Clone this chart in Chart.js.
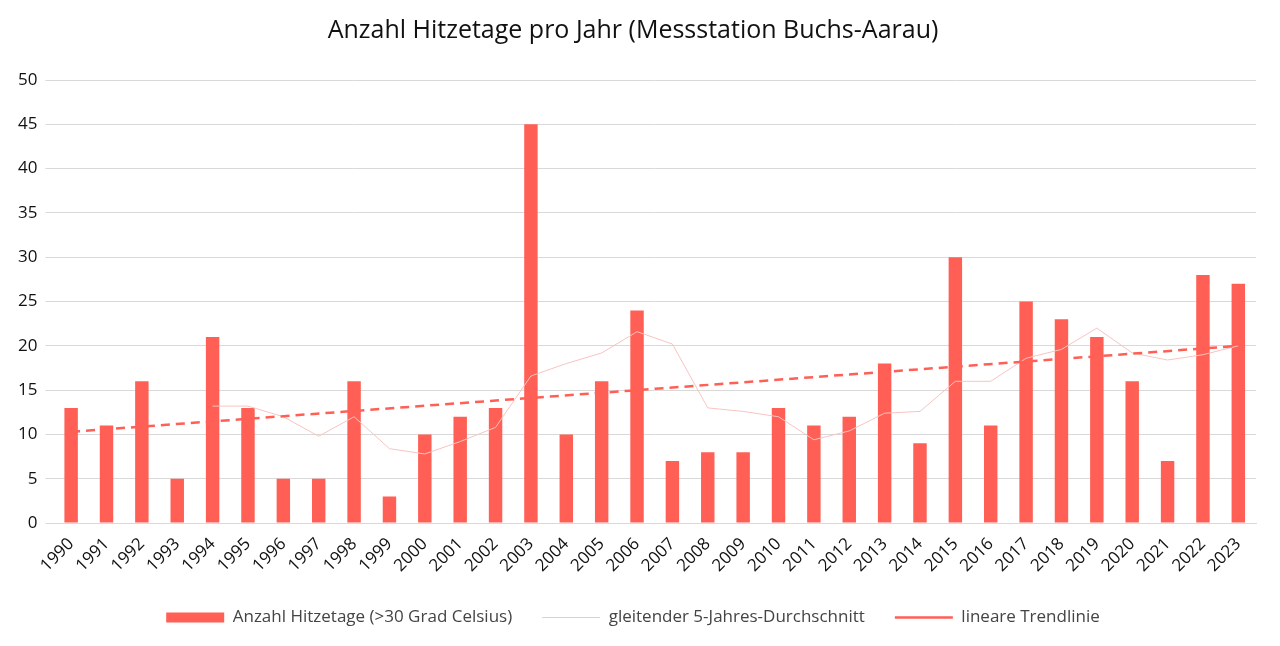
<!DOCTYPE html>
<html><head><meta charset="utf-8">
<script src="https://cdn.jsdelivr.net/npm/chart.js@4"></script>
<style>html,body{margin:0;background:#fff}#wrap{width:1280px;height:646px}</style>
</head><body><div id="wrap"><canvas id="c"></canvas></div>
<script>
// Daten
const years = ["1990","1991","1992","1993","1994","1995","1996","1997","1998","1999","2000","2001","2002","2003","2004","2005","2006","2007","2008","2009","2010","2011","2012","2013","2014","2015","2016","2017","2018","2019","2020","2021","2022","2023"];
const hitzetage = [13,11,16,5,21,13,5,5,16,3,10,12,13,45,10,16,24,7,8,8,13,11,12,18,9,30,11,25,23,21,16,7,28,27];
const gleitend = [null,null,null,null,13.2,13.2,12,9.8,12,8.4,7.8,9.2,10.8,16.6,18,19.2,21.6,20.2,13,12.6,12,9.4,10.4,12.4,12.6,16,16,18.6,19.6,22,19.2,18.4,19,20];
const trend = [10.3,null,null,null,null,null,null,null,null,null,null,null,null,null,null,null,null,null,null,null,null,null,null,null,null,null,null,null,null,null,null,null,null,20.0];
const yTicks = [0,5,10,15,20,25,30,35,40,45,50];

const RED = "#ff5f55";
Chart.defaults.font.family = "'Open Sans', sans-serif";
Chart.defaults.color = "#222";

new Chart(document.getElementById("c"), {
  data: {
    labels: years,
    datasets: [
      { type:"bar", label:"Anzahl Hitzetage (>30 Grad Celsius)", data:hitzetage, backgroundColor:RED, barPercentage:0.38, categoryPercentage:1, order:3 },
      { type:"line", label:"gleitender 5-Jahres-Durchschnitt", data:gleitend, borderColor:"#f8c4c0", borderWidth:1, pointRadius:0, fill:false, order:2 },
      { type:"line", label:"lineare Trendlinie", data:trend, borderColor:RED, borderWidth:2.5, borderDash:[9,6], pointRadius:0, spanGaps:true, fill:false, order:1 }
    ]
  },
  options: {
    responsive:true, maintainAspectRatio:false, animation:false,
    layout:{ padding:{ left:10, right:24, top:6, bottom:10 } },
    plugins:{
      title:{ display:true, text:"Anzahl Hitzetage pro Jahr (Messstation Buchs-Aarau)", font:{ size:25, weight:"normal" }, color:"#111", padding:{ top:10, bottom:34 } },
      legend:{ position:"bottom", labels:{ font:{ size:17 }, color:"#444", usePointStyle:true, pointStyleWidth:58, boxHeight:10, padding:30,
        sort:(a,b)=>a.datasetIndex-b.datasetIndex,
        generateLabels(chart){
          const items = Chart.defaults.plugins.legend.labels.generateLabels(chart);
          items.forEach(it=>{
            if(it.datasetIndex===0){ it.pointStyle="rect"; it.lineWidth=0; }
            else { it.pointStyle="line"; it.fillStyle="rgba(0,0,0,0)"; it.lineWidth = it.datasetIndex===2 ? 2.5 : 1; }
          });
          return items;
        } } },
      tooltip:{ enabled:false }
    },
    scales:{
      x:{ grid:{ display:false }, border:{ color:"#d9d9d9" }, ticks:{ font:{ size:17 }, color:"#111", maxRotation:45, minRotation:45, autoSkip:false } },
      y:{ min:0, max:50, afterBuildTicks(ax){ ax.ticks = yTicks.map(v=>({value:v})); },
        grid:{ color:"#d9d9d9" }, border:{ display:false }, ticks:{ font:{ size:17 }, color:"#111", padding:8 } }
    }
  }
});
</script></body></html>
